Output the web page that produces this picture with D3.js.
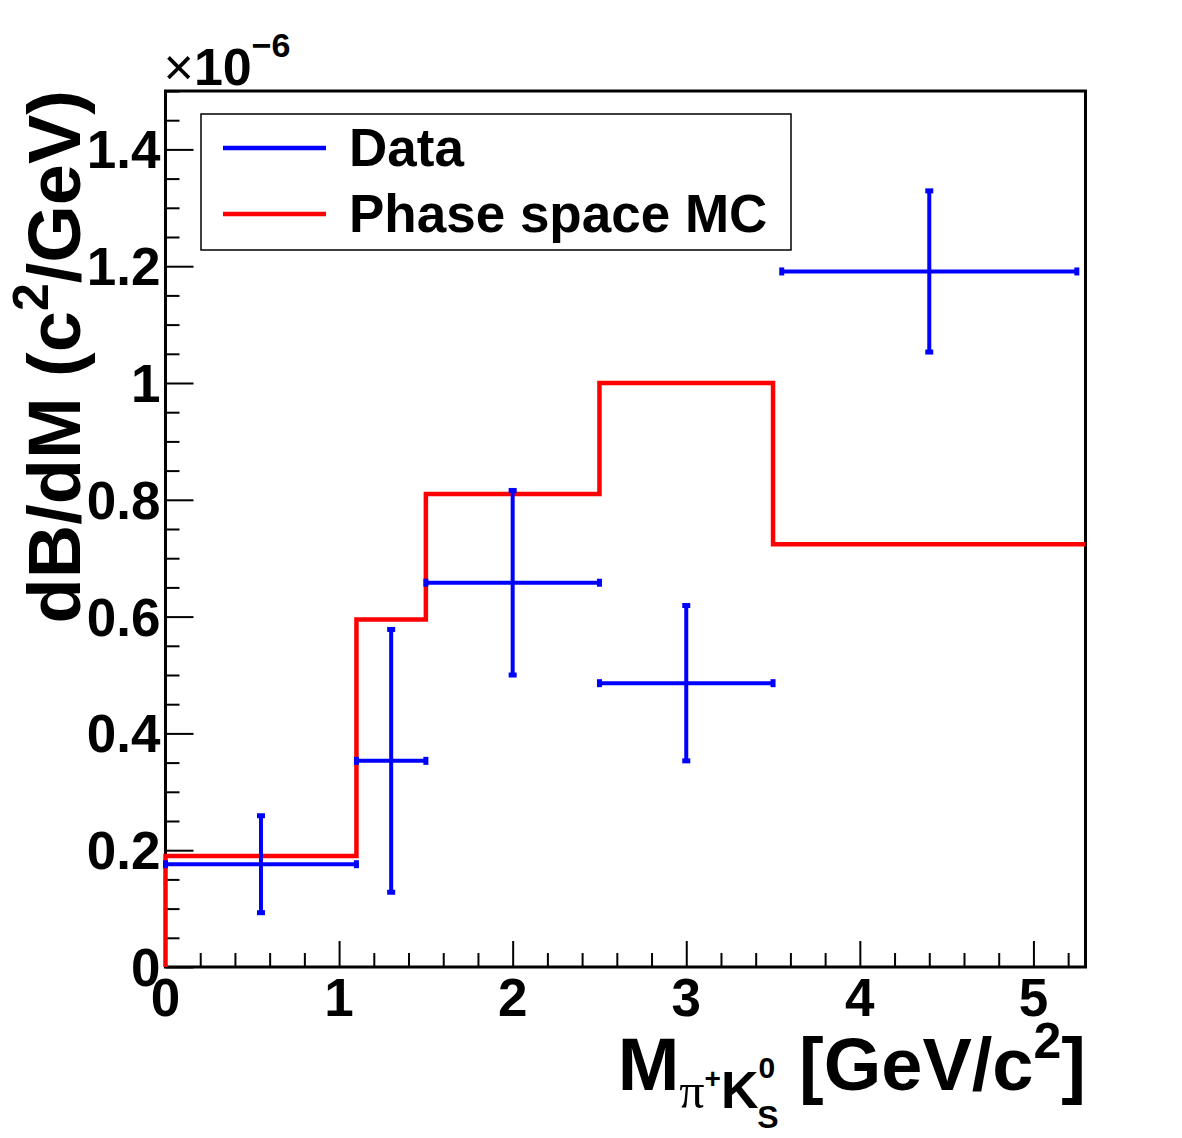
<!DOCTYPE html>
<html>
<head>
<meta charset="utf-8">
<script src="https://cdn.jsdelivr.net/npm/d3@7"></script>
<style>
  html, body { margin: 0; padding: 0; background: #fff; }
  svg { display: block; font-family: "Liberation Sans", Arial, Helvetica, sans-serif; }
</style>
</head>
<body>
<svg id="chart" width="1182" height="1138"></svg>
<script>
// ---- data (values in units of 1e-6 c^2/GeV) ----
const binEdges   = [0, 1.1, 1.5, 2.5, 3.5, 5.3];
const mcValues   = [0.19, 0.595, 0.81, 1.0, 0.724];

const dataX      = [0.55, 1.3, 2.0, 3.0, 4.4];
const dataXLow   = [0, 1.1, 1.5, 2.5, 3.55];
const dataXHigh  = [1.1, 1.5, 2.5, 3.5, 5.25];
const dataY      = [0.176, 0.353, 0.658, 0.486, 1.191];
const dataYErr   = [0.083, 0.225, 0.158, 0.133, 0.138];

const xTickValues = [0, 1, 2, 3, 4, 5];
const xTickLabels = ["0", "1", "2", "3", "4", "5"];
const yTickValues = [0, 0.2, 0.4, 0.6, 0.8, 1.0, 1.2, 1.4];
const yTickLabels = ["0", "0.2", "0.4", "0.6", "0.8", "1", "1.2", "1.4"];

const legendLabels = ["Data", "Phase space MC"];
const legendColors = ["#0000ff", "#ff0000"];

// ---- layout ----
const svg = d3.select("#chart");
const L = 165.5, R = 1085.5, T = 91, B = 967;
const x = d3.scaleLinear().domain([0, 5.3]).range([L, R]);
const y = d3.scaleLinear().domain([0, 1.5]).range([B, T]);

// minor ticks
const xMinor = d3.range(0, 5.3001, 0.2).filter(v => Math.abs(v - Math.round(v)) > 1e-6);
const yMinor = d3.range(0, 1.5001, 0.05).filter(v => Math.abs(v * 5 - Math.round(v * 5)) > 1e-6);

// x axis ticks (pointing up inside)
svg.append("g").attr("transform", `translate(0,${B})`)
  .call(d3.axisBottom(x).tickValues(xTickValues).tickSize(-26).tickFormat(""))
  .call(g => g.select(".domain").remove())
  .call(g => g.selectAll("line").attr("stroke", "#000").attr("stroke-width", 2));
svg.append("g").attr("transform", `translate(0,${B})`)
  .call(d3.axisBottom(x).tickValues(xMinor).tickSize(-14).tickFormat(""))
  .call(g => g.select(".domain").remove())
  .call(g => g.selectAll("line").attr("stroke", "#000").attr("stroke-width", 2));

// y axis ticks (pointing right inside)
svg.append("g").attr("transform", `translate(${L},0)`)
  .call(d3.axisLeft(y).tickValues(yTickValues).tickSize(-28).tickFormat(""))
  .call(g => g.select(".domain").remove())
  .call(g => g.selectAll("line").attr("stroke", "#000").attr("stroke-width", 2));
svg.append("g").attr("transform", `translate(${L},0)`)
  .call(d3.axisLeft(y).tickValues(yMinor).tickSize(-14).tickFormat(""))
  .call(g => g.select(".domain").remove())
  .call(g => g.selectAll("line").attr("stroke", "#000").attr("stroke-width", 2));

// frame
svg.append("rect")
  .attr("x", L).attr("y", T).attr("width", R - L).attr("height", B - T)
  .attr("fill", "none").attr("stroke", "#000").attr("stroke-width", 3);

// tick labels
svg.append("g").selectAll("text").data(xTickValues).join("text")
  .attr("x", d => x(d)).attr("y", B + 49)
  .attr("text-anchor", "middle")
  .attr("font-size", 53).attr("font-weight", "bold")
  .text((d, i) => xTickLabels[i]);
svg.append("g").selectAll("text").data(yTickValues).join("text")
  .attr("x", L - 5).attr("y", d => y(d) + 19)
  .attr("text-anchor", "end")
  .attr("font-size", 53).attr("font-weight", "bold")
  .text((d, i) => yTickLabels[i]);

// exponent label
const expo = svg.append("text").attr("x", L - 2).attr("y", 85).attr("font-size", 52);
expo.append("tspan").attr("font-weight", "normal").text("\u00d7");
expo.append("tspan").attr("font-weight", "bold").text("10");
expo.append("tspan").attr("font-weight", "bold").attr("font-size", 34).attr("dy", -28).text("\u22126");

// MC histogram
const mcPts = [[binEdges[0], 0]];
mcValues.forEach((v, i) => { mcPts.push([binEdges[i], v]); mcPts.push([binEdges[i + 1], v]); });
svg.append("path")
  .attr("d", d3.line().x(d => x(d[0])).y(d => y(d[1]))(mcPts))
  .attr("fill", "none").attr("stroke", legendColors[1]).attr("stroke-width", 4.5)
  .attr("stroke-linejoin", "miter").attr("stroke-linecap", "butt");

// data points with error bars
const pts = dataX.map((d, i) => ({x: d, xl: dataXLow[i], xh: dataXHigh[i], y: dataY[i], e: dataYErr[i]}));
const gData = svg.append("g").attr("stroke", legendColors[0]).attr("fill", legendColors[0]);
gData.selectAll(".h").data(pts).join("line")
  .attr("x1", d => x(d.xl)).attr("x2", d => x(d.xh))
  .attr("y1", d => y(d.y)).attr("y2", d => y(d.y)).attr("stroke-width", 4);
gData.selectAll(".v").data(pts).join("line")
  .attr("x1", d => x(d.x)).attr("x2", d => x(d.x))
  .attr("y1", d => y(d.y - d.e)).attr("y2", d => y(d.y + d.e)).attr("stroke-width", 4);
// end caps
const caps = [];
pts.forEach(d => {
  caps.push({cx: x(d.xl), cy: y(d.y), w: 5, h: 8});
  caps.push({cx: x(d.xh), cy: y(d.y), w: 5, h: 8});
  caps.push({cx: x(d.x), cy: y(d.y - d.e), w: 8, h: 5});
  caps.push({cx: x(d.x), cy: y(d.y + d.e), w: 8, h: 5});
});
gData.selectAll("rect").data(caps).join("rect")
  .attr("x", d => d.cx - d.w / 2).attr("y", d => d.cy - d.h / 2)
  .attr("width", d => d.w).attr("height", d => d.h).attr("stroke", "none");

// legend
svg.append("rect").attr("x", 201).attr("y", 114).attr("width", 590).attr("height", 136)
  .attr("fill", "#fff").attr("stroke", "#000").attr("stroke-width", 1.5);
legendLabels.forEach((lab, i) => {
  const ly = 148 + i * 66;
  svg.append("line").attr("x1", 223).attr("x2", 326).attr("y1", ly).attr("y2", ly)
    .attr("stroke", legendColors[i]).attr("stroke-width", 4.5);
  svg.append("text").attr("x", 349).attr("y", ly + 18)
    .attr("font-size", 53).attr("font-weight", "bold").text(lab);
});

// x-axis title
const xt = svg.append("text").attr("x", 1086).attr("y", 1090)
  .attr("text-anchor", "end").attr("font-size", 74).attr("font-weight", "bold");
xt.append("tspan").text("M");
xt.append("tspan").attr("font-size", 50).attr("font-weight", "normal")
  .attr("font-family", "'Liberation Serif', serif").attr("dy", 18).text("\u03c0");
xt.append("tspan").attr("font-size", 28).attr("dy", -20).text("+");
xt.append("tspan").attr("font-size", 52).attr("dy", 20).text("K");
xt.append("tspan").attr("font-size", 30).attr("dy", -30).text("0");
xt.append("tspan").attr("font-size", 32).attr("dx", -18).attr("dy", 50).text("S");
xt.append("tspan").attr("font-size", 74).attr("dy", -38).text("\u00a0[GeV/c");
xt.append("tspan").attr("font-size", 50).attr("dy", -32).text("2");
xt.append("tspan").attr("font-size", 74).attr("dy", 32).text("]");

// y-axis title (rotated)
const yt = svg.append("text")
  .attr("transform", "translate(80,90) rotate(-90)")
  .attr("text-anchor", "end").attr("font-size", 74).attr("font-weight", "bold");
yt.append("tspan").text("dB/dM (c");
yt.append("tspan").attr("font-size", 50).attr("dy", -32).text("2");
yt.append("tspan").attr("dy", 32).text("/GeV)");
</script>
</body>
</html>
